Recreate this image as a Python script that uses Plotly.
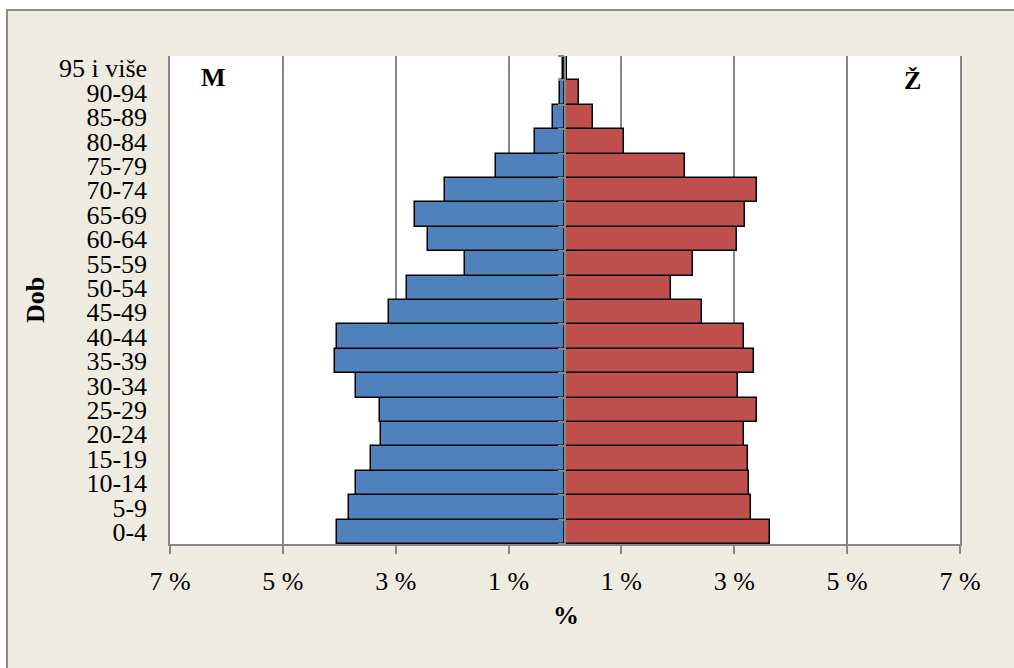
import plotly.graph_objects as go

age_groups = ["0-4", "5-9", "10-14", "15-19", "20-24", "25-29", "30-34", "35-39",
              "40-44", "45-49", "50-54", "55-59", "60-64", "65-69", "70-74", "75-79",
              "80-84", "85-89", "90-94", "95 i više"]
male_pct = [4.04, 3.83, 3.71, 3.44, 3.26, 3.27, 3.70, 4.08, 4.04, 3.12, 2.80, 1.77,
            2.42, 2.66, 2.12, 1.23, 0.54, 0.22, 0.08, 0.04]
female_pct = [3.63, 3.30, 3.26, 3.25, 3.18, 3.41, 3.07, 3.35, 3.18, 2.42, 1.87, 2.26,
              3.05, 3.19, 3.41, 2.12, 1.05, 0.50, 0.24, 0.03]
tick_vals = [-7, -5, -3, -1, 1, 3, 5, 7]
tick_text = ["7 %", "5 %", "3 %", "1 %", "1 %", "3 %", "5 %", "7 %"]

FONT = "Liberation Serif, Times New Roman, serif"
FS = 26
GRID = "#878787"
BEIGE = "#EEEBE0"

W, H = 1014, 668
# plot area in screen pixels
L, R, T, B = 170, 960, 56, 544

def px(x):
    return (x - L) / (R - L)

def py(y):
    return (B - y) / (B - T)

fig = go.Figure()
fig.add_trace(go.Bar(
    y=age_groups, x=[-v for v in male_pct], orientation="h", name="M",
    marker=dict(color="#4F81BD", line=dict(color="black", width=1.5)),
    hoverinfo="skip"))
fig.add_trace(go.Bar(
    y=age_groups, x=female_pct, orientation="h", name="Ž",
    marker=dict(color="#C0504D", line=dict(color="black", width=1.5)),
    hoverinfo="skip"))
# invisible trace to carry the central category axis
fig.add_trace(go.Scatter(
    y=age_groups, x=[0] * len(age_groups), yaxis="y2", mode="markers",
    marker=dict(opacity=0), hoverinfo="skip", showlegend=False))

fig.update_layout(
    width=W, height=H,
    margin=dict(l=L, r=W - R, t=T, b=H - B, pad=0),
    paper_bgcolor="white", plot_bgcolor="white",
    barmode="relative", bargap=0, showlegend=False,
    font=dict(family=FONT, size=FS, color="black"),
    xaxis=dict(range=[-7, 7], tickvals=tick_vals, ticktext=tick_text,
               showgrid=True, gridcolor=GRID, gridwidth=1.5,
               zeroline=False, showline=True, linecolor=GRID, linewidth=1.5,
               ticks="outside", ticklen=8, tickcolor=GRID, tickwidth=1.5,
               ticklabelstandoff=5,
               tickfont=dict(family=FONT, size=FS, color="black"),
               fixedrange=True),
    yaxis=dict(type="category", categoryorder="array", categoryarray=age_groups,
               tickmode="array", tickvals=age_groups, ticktext=age_groups,
               range=[-0.5, len(age_groups) - 0.5],
               showgrid=False, zeroline=False, showline=True, mirror=True,
               linecolor=GRID, linewidth=1.5,
               ticks="outside", ticklen=16, tickcolor="rgba(0,0,0,0)",
               tickfont=dict(family=FONT, size=FS, color="black"),
               fixedrange=True),
    yaxis2=dict(type="category", categoryorder="array", categoryarray=age_groups,
                range=[-0.5, len(age_groups) - 0.5],
                overlaying="y", anchor="free", position=0.5, side="left",
                showgrid=False, zeroline=False, showline=True,
                linecolor=GRID, linewidth=2,
                ticks="outside", tickson="boundaries", ticklen=6,
                tickcolor=GRID, tickwidth=1.5, showticklabels=False,
                fixedrange=True),
    shapes=[
        dict(type="rect", xref="paper", yref="paper",
             x0=px(7), x1=px(1040), y0=py(700), y1=py(10),
             fillcolor=BEIGE, line=dict(color="#8c8c8c", width=2), layer="below"),
        dict(type="rect", xref="paper", yref="paper",
             x0=0, x1=1, y0=0, y1=1,
             fillcolor="white", line=dict(width=0), layer="below"),
    ],
    annotations=[
        dict(text="<b>M</b>", xref="paper", yref="paper", x=px(213), y=py(77),
             xanchor="center", yanchor="middle", showarrow=False,
             font=dict(family=FONT, size=FS, color="black")),
        dict(text="<b>Ž</b>", xref="paper", yref="paper", x=px(912), y=py(80),
             xanchor="center", yanchor="middle", showarrow=False,
             font=dict(family=FONT, size=FS, color="black")),
        dict(text="<b>Dob</b>", xref="paper", yref="paper", x=px(35), y=py(300),
             xanchor="center", yanchor="middle", textangle=-90, showarrow=False,
             font=dict(family=FONT, size=FS, color="black")),
        dict(text="<b>%</b>", xref="paper", yref="paper", x=px(566), y=py(615),
             xanchor="center", yanchor="middle", showarrow=False,
             font=dict(family=FONT, size=FS, color="black")),
    ],
)

fig.write_html(
    "out.html",
    config={"displayModeBar": False},
    post_script="document.body.style.margin='0';document.body.style.overflow='hidden';",
)
